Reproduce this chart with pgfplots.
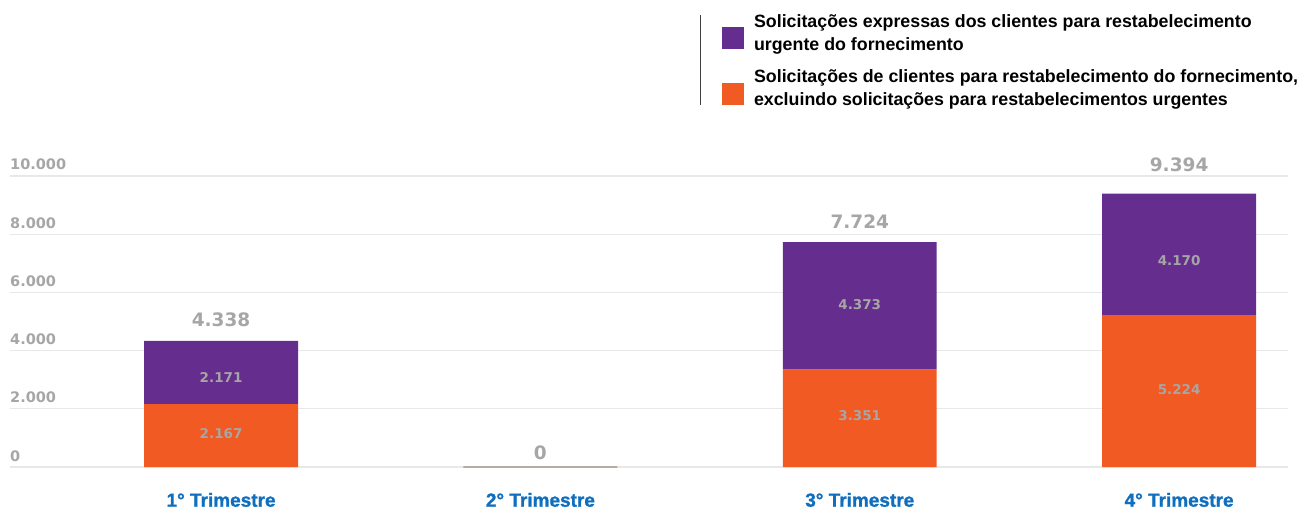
\documentclass[border=0pt]{standalone}
\usepackage{pgfplots}
\pgfplotsset{compat=1.18}
\usepackage{pgfplotstable}
\usepackage{fontspec}
\setmainfont{Liberation Sans}
\newfontfamily\numfont{DejaVu Sans}
\newfontfamily\heavyfont[FakeBold=1.2]{Liberation Sans Bold}
\definecolor{cpurple}{HTML}{652D8E}
\definecolor{corange}{HTML}{F15A22}
\definecolor{cgray}{HTML}{A6A6A6}
\definecolor{cblue}{HTML}{0F6FBE}
\definecolor{cgrid}{HTML}{E8E8E8}
\definecolor{czero}{HTML}{B5ADA6}

\pgfplotstableread{
x y
0 2167
1 0
2 3351
3 5224
}\orangedata
\pgfplotstableread{
x y
0 2171
1 0
2 4373
3 4170
}\purpledata
\pgfplotstableread{
x y label
0 4811 4.338
1 250 0
2 8179 7.724
3 10140 9.394
}\totals
\pgfplotstableread{
x y label
0 1144 2.167
0 3069 2.171
2 1763 3.351
2 5577 4.373
3 2656 5.224
3 7080 4.170
}\inner

\begin{document}
\begin{tikzpicture}
\useasboundingbox (0pt,0pt) rectangle (1311pt,511pt);
\begin{axis}[
  at={(10pt,44pt)}, anchor=south west,
  width=1278pt, height=291pt, scale only axis,
  xmin=-0.661, xmax=3.341, ymin=0, ymax=10000,
  clip=false,
  scaled y ticks=false,
  axis line style={draw=none},
  major tick length=0pt,
  tick style={draw=none},
  ymajorgrids, major grid style={cgrid, line width=1.2pt},
  ytick={0,2000,4000,6000,8000,10000},
  yticklabels={0,2.000,4.000,6.000,8.000,10.000},
  yticklabel style={anchor=base west, inner sep=0pt, xshift=0pt, yshift=6pt,
    font=\numfont\bfseries\fontsize{14.5}{16}\selectfont, text=cgray},
  xtick={0,1,2,3},
  xticklabels={1° Trimestre,2° Trimestre,3° Trimestre,4° Trimestre},
  xticklabel style={anchor=base, inner sep=0pt, yshift=-39.7pt,
    font=\heavyfont\fontsize{19}{22}\selectfont, text=cblue},
  legend style={at={(axis description cs:0.557,1.5636)}, anchor=north west,
    draw=none, fill=none, inner sep=0pt, row sep=14pt,
    column sep=8pt,
    font=\bfseries\fontsize{17.8}{23}\selectfont,
    cells={align=left, anchor=west, inner sep=0pt}},
  reverse legend,
  legend image code/.code={\fill[#1,draw=none] (0pt,-16.5pt) rectangle (22pt,5.5pt);},
]
\addplot[ybar, bar width=0.482, bar shift=0pt, stack plots=y, fill=corange, draw=none]
  table[x=x,y=y] {\orangedata};
\addlegendentry{Solicitações de clientes para restabelecimento do fornecimento,\\excluindo solicitações para restabelecimentos urgentes}
\addplot[ybar, bar width=0.482, bar shift=0pt, stack plots=y, fill=cpurple, draw=none]
  table[x=x,y=y] {\purpledata};
\addlegendentry{Solicitações expressas dos clientes para restabelecimento\\urgente do fornecimento}
\addplot[ybar, bar width=0.482, bar shift=0pt, fill=none, draw=czero, line width=1.2pt, forget plot]
  coordinates {(1,0)};
\addplot[draw=none, mark=none, forget plot, nodes near coords, point meta=explicit symbolic,
  nodes near coords style={anchor=base, inner sep=0pt, text=cgray,
    font=\numfont\bfseries\fontsize{18.5}{20}\selectfont}]
  table[x=x,y=y,meta=label] {\totals};
\addplot[draw=none, mark=none, forget plot, nodes near coords, point meta=explicit symbolic,
  nodes near coords style={anchor=center, inner sep=0pt, text=cgray,
    font=\numfont\bfseries\fontsize{13.5}{15}\selectfont}]
  table[x=x,y=y,meta=label] {\inner};
\end{axis}
\draw[black!75, line width=0.8pt] (700pt,496pt) -- (700pt,406pt);
\end{tikzpicture}
\end{document}
